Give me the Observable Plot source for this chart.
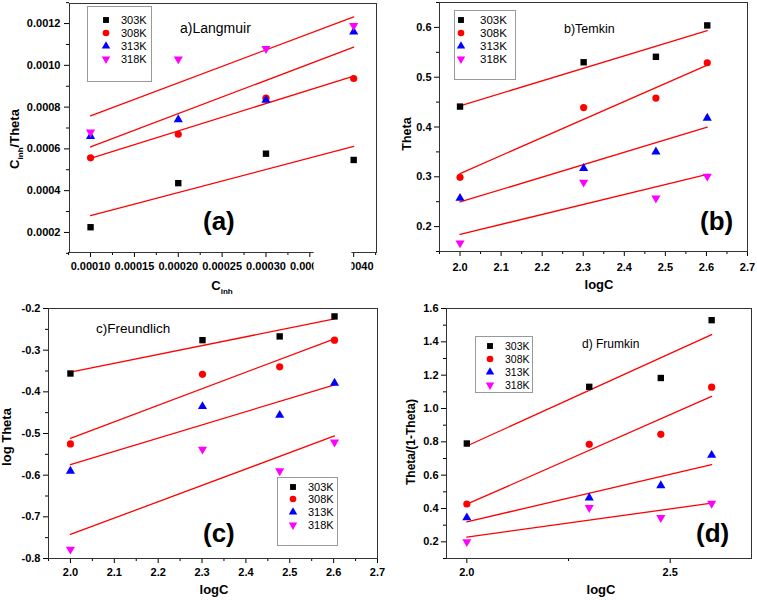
<!DOCTYPE html>
<html>
<head>
<meta charset="utf-8">
<script src="https://cdn.jsdelivr.net/npm/d3@7"></script>
<script src="https://cdn.jsdelivr.net/npm/@observablehq/plot@0.6"></script>
<style>
  html, body { margin: 0; padding: 0; background: #fff; }
  #figure { position: relative; width: 757px; height: 600px; overflow: hidden; }
  #figure svg { position: absolute; overflow: visible; }
</style>
</head>
<body>
<div id="figure"></div>
<script>
// Adsorption isotherm fits at four temperatures
const temps = ["303K", "308K", "313K", "318K"];
const colors = ["#000000", "#ff0000", "#0000ff", "#ff00ff"];

// Inhibitor concentration and its log
const cinh = [0.0001, 0.0002, 0.0003, 0.0004];
const logC = [2.0, 2.301, 2.477, 2.602];

// Rows follow temps: 303K, 308K, 313K, 318K
const langmuir = [
  [0.000225, 0.000436, 0.000577, 0.000547],
  [0.000557, 0.000670, 0.000843, 0.000937],
  [0.000660, 0.000740, 0.000833, 0.001160],
  [0.000680, 0.001030, 0.001080, 0.001190]
];
const temkin = [
  [0.441, 0.530, 0.541, 0.604],
  [0.299, 0.439, 0.458, 0.529],
  [0.257, 0.317, 0.350, 0.418],
  [0.167, 0.289, 0.257, 0.301]
];
const freundlich = [
  [-0.356, -0.276, -0.267, -0.219],
  [-0.525, -0.358, -0.340, -0.276],
  [-0.590, -0.435, -0.456, -0.379],
  [-0.778, -0.538, -0.590, -0.521]
];
const frumkin = [
  [0.790, 1.130, 1.183, 1.530],
  [0.427, 0.785, 0.845, 1.128],
  [0.345, 0.464, 0.538, 0.720],
  [0.200, 0.405, 0.345, 0.430]
];

// Tick values
const cinhTicks = [0.0001, 0.00015, 0.0002, 0.00025, 0.0003, 0.00035, 0.0004];
const cinhMinor = [0.000075, 0.000125, 0.000175, 0.000225, 0.000275, 0.000325, 0.000375, 0.000425];
const cinhBreak = [0.000355, 0.000398];
const langmuirTicks = [0.0002, 0.0004, 0.0006, 0.0008, 0.0010, 0.0012];
const langmuirMinor = [0.0001, 0.0003, 0.0005, 0.0007, 0.0009, 0.0011, 0.0013];
const logCTicks = [2.0, 2.1, 2.2, 2.3, 2.4, 2.5, 2.6, 2.7];
const logCMinor = [1.95, 2.05, 2.15, 2.25, 2.35, 2.45, 2.55, 2.65];
const temkinTicks = [0.2, 0.3, 0.4, 0.5, 0.6];
const temkinMinor = [0.15, 0.25, 0.35, 0.45, 0.55, 0.65];
const freundlichTicks = [-0.8, -0.7, -0.6, -0.5, -0.4, -0.3, -0.2];
const freundlichMinor = [-0.75, -0.65, -0.55, -0.45, -0.35, -0.25];
const frumkinXTicks = [2.0, 2.5];
const frumkinXMinor = [2.25];
const frumkinTicks = [0.2, 0.4, 0.6, 0.8, 1.0, 1.2, 1.4, 1.6];
const frumkinMinor = [0.1, 0.3, 0.5, 0.7, 0.9, 1.1, 1.3, 1.5];

// Downward-pointing triangle (mirror of d3.symbolTriangle)
const triangleDown = {
  draw(context, size) {
    const sqrt3 = Math.sqrt(3);
    const y = -Math.sqrt(size / (sqrt3 * 3));
    context.moveTo(0, -y * 2);
    context.lineTo(-sqrt3 * y, y);
    context.lineTo(sqrt3 * y, y);
    context.closePath();
  }
};
const shapes = [d3.symbolSquare, d3.symbolCircle, d3.symbolTriangle, triangleDown];
const radii = [3.6, 3.6, 3.4, 3.4];

const FONT = "'Liberation Sans', Arial, Helvetica, sans-serif";
const fixed = (n) => (d) => d.toFixed(n);
const blank = () => "";

function addText(sel, {x, y, text, size, weight = "normal", anchor = "start", rotate = false}) {
  const t = sel.append("text")
    .attr("font-family", FONT)
    .attr("font-size", size)
    .attr("font-weight", weight)
    .attr("text-anchor", anchor)
    .attr("fill", "#000");
  if (rotate) t.attr("transform", `translate(${x},${y}) rotate(-90)`);
  else t.attr("x", x).attr("y", y);
  // text may be a list of [string, subscript?] parts
  const parts = Array.isArray(text) ? text : [[text, false]];
  let shifted = false;
  for (const [s, sub] of parts) {
    const span = t.append("tspan").text(s);
    if (sub && !shifted) { span.attr("font-size", size * 0.62).attr("dy", size * 0.3); shifted = true; }
    else if (!sub && shifted) { span.attr("dy", -size * 0.3); shifted = false; }
  }
  return t;
}

function panel(o) {
  const rows = o.series.flatMap((ys, i) => ys.map((y, j) => ({temp: temps[i], x: o.xs[j], y})));
  const svg = Plot.plot({
    width: o.width,
    height: 300,
    marginLeft: o.margin[0], marginRight: o.margin[1], marginTop: o.margin[2], marginBottom: o.margin[3],
    x: {domain: o.xDomain},
    y: {domain: o.yDomain},
    style: {fontFamily: FONT, fontSize: "11px", fontWeight: "bold", color: "#000", background: "transparent", overflow: "visible"},
    marks: [
      Plot.axisX(o.xMinor, {tickSize: 3, tickFormat: blank, label: null}),
      Plot.axisX(o.xTicks, {tickSize: 5, tickPadding: o.pad[0], tickFormat: o.xFormat, label: null}),
      Plot.axisY(o.yMinor, {tickSize: 3, tickFormat: blank, label: null}),
      Plot.axisY(o.yTicks, {tickSize: 5, tickPadding: o.pad[1], tickFormat: o.yFormat, label: null}),
      Plot.frame({stroke: "#333"}),
      Plot.linearRegressionY(rows, {x: "x", y: "y", z: "temp", stroke: "#ff0000", strokeWidth: 1.3, ci: 0}),
      ...temps.map((t, i) => Plot.dot(rows.filter((d) => d.temp === t), {
        x: "x", y: "y", symbol: shapes[i], fill: colors[i], r: radii[i]
      }))
    ]
  });
  svg.style.left = o.left + "px";
  svg.style.top = o.top + "px";
  const sel = d3.select(svg);

  // broken x axis: blank out the skipped interval below the frame
  if (o.axisBreak) {
    const xs = svg.scale("x");
    const x1 = xs.apply(o.axisBreak[0]), x2 = xs.apply(o.axisBreak[1]);
    const bottom = 300 - o.margin[3];
    sel.append("rect").attr("x", x1).attr("y", bottom - 1).attr("width", x2 - x1).attr("height", 26).attr("fill", "#fff");
  }

  addText(sel, {...o.title, size: o.title.size});
  addText(sel, {...o.tag, size: 26, weight: "bold"});
  addText(sel, {...o.xLabel, weight: "bold", anchor: "middle"});
  addText(sel, {...o.yLabel, weight: "bold", anchor: "middle", rotate: true});

  // legend box
  const L = o.legend;
  const g = sel.append("g").attr("text-anchor", "start");
  g.append("rect")
    .attr("x", L.box[0] + 0.5).attr("y", L.box[1] + 0.5)
    .attr("width", L.box[2] - L.box[0]).attr("height", L.box[3] - L.box[1])
    .attr("fill", "none").attr("stroke", "#999");
  temps.forEach((t, i) => {
    g.append("path")
      .attr("transform", `translate(${L.markerX},${L.rows[i]})`)
      .attr("d", d3.symbol(shapes[i], Math.PI * radii[i] * radii[i] * 0.85)())
      .attr("fill", colors[i]);
    g.append("text")
      .attr("x", L.textX).attr("y", L.rows[i]).attr("dy", "0.36em")
      .attr("text-anchor", "start")
      .attr("font-family", FONT).attr("font-size", L.size).attr("font-weight", "normal")
      .attr("fill", "#000").text(t);
  });

  document.getElementById("figure").appendChild(svg);
}

panel({
  left: 0, top: 0, width: 378,
  margin: [69, 2, 3, 48], pad: [5, 4],
  xs: cinh, series: langmuir,
  xDomain: [0.000076, 0.000426], yDomain: [0.000104, 0.001296],
  xTicks: cinhTicks, xMinor: cinhMinor, yTicks: langmuirTicks, yMinor: langmuirMinor,
  xFormat: fixed(5), yFormat: fixed(4),
  axisBreak: cinhBreak,
  title: {x: 180, y: 33, text: "a)Langmuir", size: 14},
  tag: {x: 203, y: 230, text: "(a)"},
  xLabel: {x: 222, y: 290, size: 13, text: [["C", false], ["inh", true]]},
  yLabel: {x: 19, y: 139, size: 13, text: [["C", false], ["inh", true], ["/Theta", false]]},
  legend: {box: [87, 6, 151, 81], markerX: 106, textX: 121, rows: [20, 33, 46, 59], size: 11}
});

panel({
  left: 378, top: 0, width: 379,
  margin: [61, 10, 2, 49], pad: [7, 3],
  xs: logC, series: temkin,
  xDomain: [1.95, 2.7], yDomain: [0.15, 0.65],
  xTicks: logCTicks, xMinor: logCMinor, yTicks: temkinTicks, yMinor: temkinMinor,
  xFormat: fixed(1), yFormat: fixed(1),
  title: {x: 186, y: 33, text: "b)Temkin", size: 12.5},
  tag: {x: 322, y: 230, text: "(b)"},
  xLabel: {x: 221, y: 289, size: 13, text: "logC"},
  yLabel: {x: 33, y: 134, size: 12.5, text: "Theta"},
  legend: {box: [76, 10, 137, 79], markerX: 83, textX: 102, rows: [20, 33, 46, 59], size: 11.5}
});

panel({
  left: 0, top: 300, width: 378,
  margin: [48, 1, 8, 42], pad: [5, 3],
  xs: logC, series: freundlich,
  xDomain: [1.95, 2.7], yDomain: [-0.8, -0.2],
  xTicks: logCTicks, xMinor: logCMinor, yTicks: freundlichTicks, yMinor: freundlichMinor,
  xFormat: fixed(1), yFormat: fixed(1),
  title: {x: 96, y: 33, text: "c)Freundlich", size: 13.5},
  tag: {x: 203, y: 242, text: "(c)"},
  xLabel: {x: 214, y: 294, size: 13, text: "logC"},
  yLabel: {x: 11, y: 137, size: 13, text: "log Theta"},
  legend: {box: [277, 177, 337, 245], markerX: 293, textX: 308, rows: [187, 199, 212, 225], size: 11}
});

panel({
  left: 378, top: 300, width: 379,
  margin: [68, 6, 8, 42], pad: [5, 3],
  xs: logC, series: frumkin,
  xDomain: [1.95, 2.7], yDomain: [0.1, 1.6],
  xTicks: frumkinXTicks, xMinor: frumkinXMinor, yTicks: frumkinTicks, yMinor: frumkinMinor,
  xFormat: fixed(1), yFormat: fixed(1),
  title: {x: 204, y: 48, text: "d) Frumkin", size: 12},
  tag: {x: 318, y: 242, text: "(d)"},
  xLabel: {x: 223, y: 294, size: 13, text: "logC"},
  yLabel: {x: 37, y: 142, size: 12, text: "Theta/(1-Theta)"},
  legend: {box: [97, 36, 154, 92], markerX: 112, textX: 127, rows: [46, 59, 72, 85], size: 10.5}
});
</script>
</body>
</html>
